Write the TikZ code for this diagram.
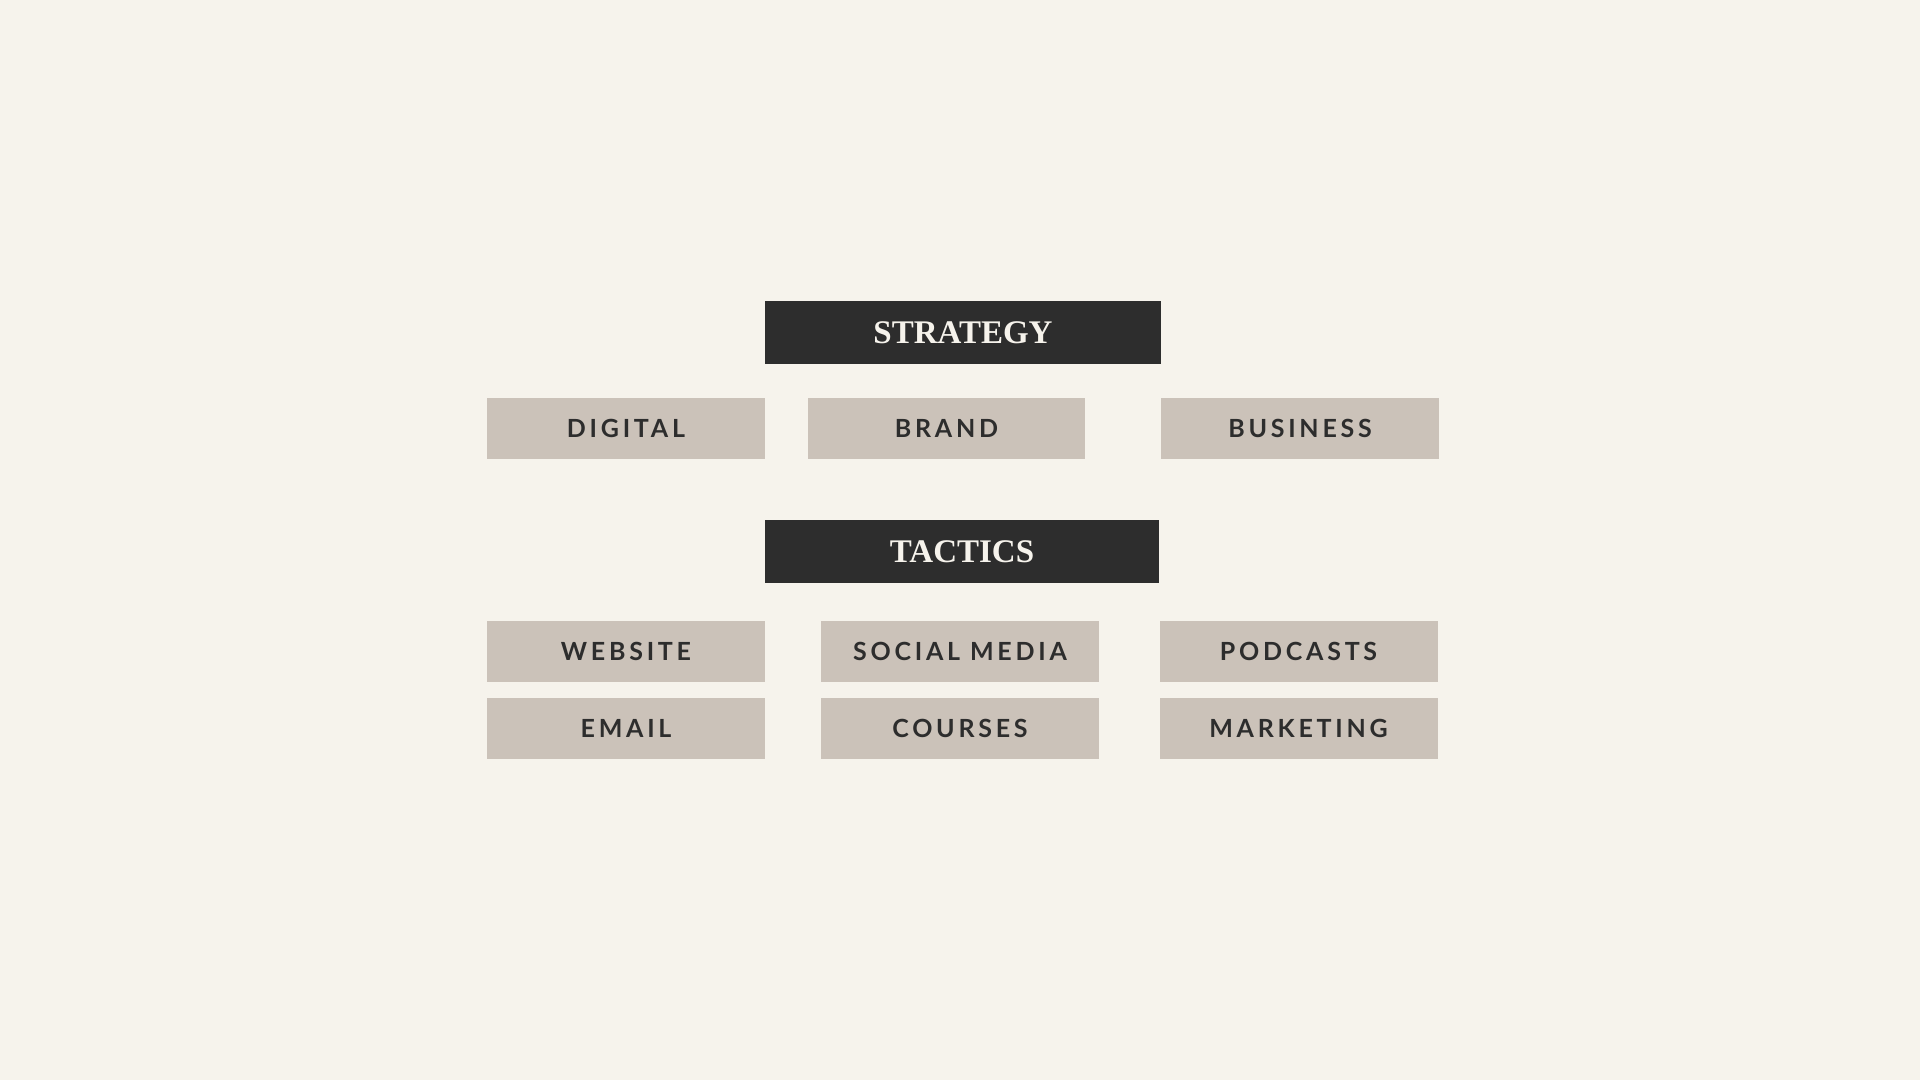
\documentclass[tikz,border=0pt]{standalone}
\usepackage{fontspec}
\usepackage{xcolor}
\usepackage{tikz}
\newfontfamily\headfont{Liberation Serif}
\newfontfamily\tagfont[LetterSpace=15]{Lato}
\definecolor{paper}{HTML}{F6F3EC}
\definecolor{ink}{HTML}{2D2D2D}
\definecolor{stone}{HTML}{CBC2B9}

\begin{document}
\begin{tikzpicture}[x=1pt, y=-1pt,
	  headbox/.style={fill=ink, text=paper, inner sep=0pt, minimum height=63pt,
	    font=\headfont\bfseries\fontsize{33}{33}\selectfont},
	  tagbox/.style={fill=stone, text=ink, inner sep=0pt, minimum width=278pt, minimum height=61pt,
	    font=\tagfont\bfseries\fontsize{25}{25}\selectfont}]
	  \fill[paper](0, 0) rectangle (1920, 1080);
	  % strategy row
	  \node[headbox, minimum width=396pt] (strategy) at (963, 332.5) {STRATEGY};
	  \node[tagbox] (digital) at (626, 428.5) {DIGITAL};
	  \node[tagbox, minimum width=277pt] (brand) at (946.5, 428.5) {BRAND};
	  \node[tagbox] (business) at (1300, 428.5) {BUSINESS};
	  % tactics rows
	  \node[headbox, minimum width=394pt] (tactics) at (962, 551.5) {TACTICS};
	  \node[tagbox] (website) at (626, 651.5) {WEBSITE};
	  \node[tagbox] (social) at (960, 651.5) {SOCIAL MEDIA};
	  \node[tagbox] (podcasts) at (1298.5, 651.5) {PODCASTS};
	  \node[tagbox] (email) at (626, 728.5) {EMAIL};
	  \node[tagbox] (courses) at (960, 728.5) {COURSES};
	  \node[tagbox] (marketing) at (1298.5, 728.5) {MARKETING};
	\end{tikzpicture}
\end{document}
